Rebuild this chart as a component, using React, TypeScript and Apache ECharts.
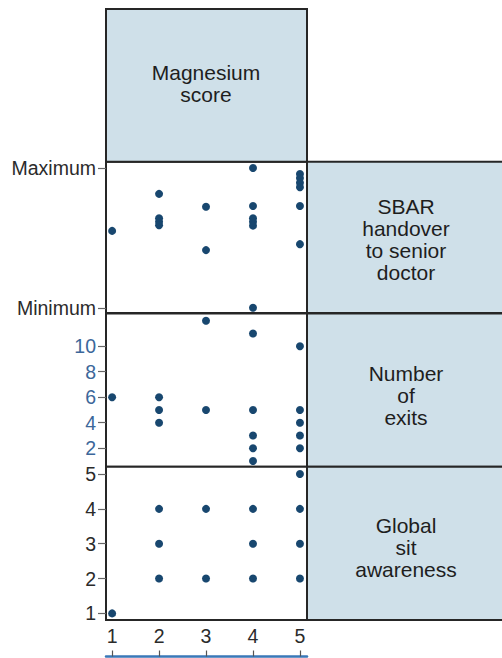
import React, { useEffect, useRef } from "react";
import * as echarts from "echarts";

const magTicks = [1, 2, 3, 4, 5];

const sbarMag = [1, 2, 2, 2, 2, 3, 3, 4, 4, 4, 4, 4, 4, 5, 5, 5, 5, 5, 5];
const sbarVal = [22, 32.6, 25.6, 24.6, 23.6, 28.9, 16.5, 40, 29.1, 25.6, 24.6, 23.5, 0, 38.3, 37.1, 35.8, 34.5, 29.1, 18.2];
const sbarTicks = [0, 40];
const sbarTickNames = ["Minimum", "Maximum"];

const exitsMag = [1, 2, 2, 2, 3, 3, 4, 4, 4, 4, 4, 5, 5, 5, 5, 5];
const exitsVal = [6, 6, 5, 4, 12, 5, 11, 5, 3, 2, 1, 10, 5, 4, 3, 2];
const exitsTicks = [2, 4, 6, 8, 10];

const globalMag = [1, 2, 2, 2, 3, 3, 4, 4, 4, 5, 5, 5, 5];
const globalVal = [1, 4, 3, 2, 4, 2, 4, 3, 2, 5, 4, 3, 2];
const globalTicks = [1, 2, 3, 4, 5];

const headerTop = "Magnesium\nscore";
const rowLabels = ["SBAR\nhandover\nto senior\ndoctor", "Number\nof\nexits", "Global\nsit\nawareness"];

const FONT = '"Liberation Sans", Arial, Helvetica, sans-serif';
const DOT = "#18476f";
const FILL = "#cfe0e9";
const BORDER = "#262626";

export default function App() {
  const ref = useRef<HTMLDivElement>(null);

  useEffect(() => {
    if (!ref.current) return;
    const chart = echarts.init(ref.current, undefined, { renderer: "svg" });

    const L = 106;
    const R = 502 - 307;
    const rows = [
      { top: 161.7, bottom: 313 },
      { top: 313.5, bottom: 466.7 },
      { top: 466.7, bottom: 620 },
    ];
    const grids: any[] = rows.map((r) => ({
      left: L,
      right: R,
      top: r.top,
      height: r.bottom - r.top,
      show: true,
      borderColor: BORDER,
      borderWidth: 2,
      backgroundColor: "#ffffff",
    }));
    grids.push({ left: L, right: R, top: 656.5, height: 1, show: false });

    const xMin = 0.87;
    const xMax = 5.15;
    const xAxes: any[] = [0, 1, 2].map((i) => ({
      type: "value",
      gridIndex: i,
      min: xMin,
      max: xMax,
      axisLine: { show: false },
      axisTick: { show: false },
      splitLine: { show: false },
      axisLabel: i === 2
        ? { show: true, customValues: magTicks, fontSize: 19.5, color: "#2b2b2b", fontFamily: FONT, margin: 6 }
        : { show: false },
    }));
    xAxes.push({
      type: "value",
      gridIndex: 3,
      position: "top",
      min: xMin,
      max: xMax,
      axisLine: { show: true, onZero: false, lineStyle: { color: "#3a78b8", width: 2.5 } },
      axisTick: { show: true, customValues: magTicks, length: 6, lineStyle: { color: "#555", width: 1.2 } },
      axisLabel: { show: false },
      splitLine: { show: false },
    });

    const yBase = (i: number, min: number, max: number, ticks: number[], color: string, fmt?: (v: number) => string) => ({
      type: "value",
      gridIndex: i,
      min,
      max,
      axisLine: { show: false },
      splitLine: { show: false },
      axisTick: { show: true, customValues: ticks, length: 8, lineStyle: { color: "#666", width: 1.2 } },
      axisLabel: {
        show: true,
        customValues: ticks,
        fontSize: 19.5,
        color,
        fontFamily: FONT,
        margin: 10,
        formatter: fmt ? (v: number) => fmt(v) : undefined,
      },
    });

    const yAxes: any[] = [
      yBase(0, -1.5, 41.8, sbarTicks, "#2b2b2b", (v) => sbarTickNames[sbarTicks.indexOf(v)] ?? ""),
      yBase(1, 0.55, 12.57, exitsTicks, "#3c679a"),
      yBase(2, 0.81, 5.21, globalTicks, "#2b2b2b"),
      { type: "value", gridIndex: 3, min: 0, max: 1, show: false },
    ];

    const pairs = (xs: number[], ys: number[]) => xs.map((x, i) => [x, ys[i]]);
    const mk = (i: number, data: number[][]) => ({
      type: "scatter",
      xAxisIndex: i,
      yAxisIndex: i,
      data,
      symbol: "circle",
      symbolSize: 8,
      itemStyle: { color: DOT, opacity: 1 },
      silent: true,
    });

    const boxText = (text: string, cx: number, cy: number) => ({
      type: "text",
      x: cx,
      y: cy,
      style: {
        text,
        fontSize: 21,
        lineHeight: 22,
        fontFamily: FONT,
        fill: "#1e1e1e",
        align: "center",
        verticalAlign: "middle",
      },
      z: 10,
    });
    const box = (x: number, y: number, w: number, h: number) => ({
      type: "rect",
      shape: { x, y, width: w, height: h },
      style: { fill: FILL, stroke: BORDER, lineWidth: 2 },
      z: 5,
    });

    chart.setOption({
      animation: false,
      grid: grids,
      xAxis: xAxes,
      yAxis: yAxes,
      series: [
        mk(0, pairs(sbarMag, sbarVal)),
        mk(1, pairs(exitsMag, exitsVal)),
        mk(2, pairs(globalMag, globalVal)),
      ],
      graphic: [
        box(106, 9, 201, 152.7),
        box(307, 161.7, 200, 151.3),
        box(307, 313.5, 200, 153.2),
        box(307, 466.7, 200, 153.3),
        boxText(headerTop, 206, 83),
        boxText(rowLabels[0], 406, 239),
        boxText(rowLabels[1], 406, 395),
        boxText(rowLabels[2], 406, 547),
      ],
    });

    return () => chart.dispose();
  }, []);

  return (
    <div
      ref={ref}
      style={{ position: "absolute", left: 0, top: 0, width: 502, height: 658, background: "#ffffff" }}
    />
  );
}
